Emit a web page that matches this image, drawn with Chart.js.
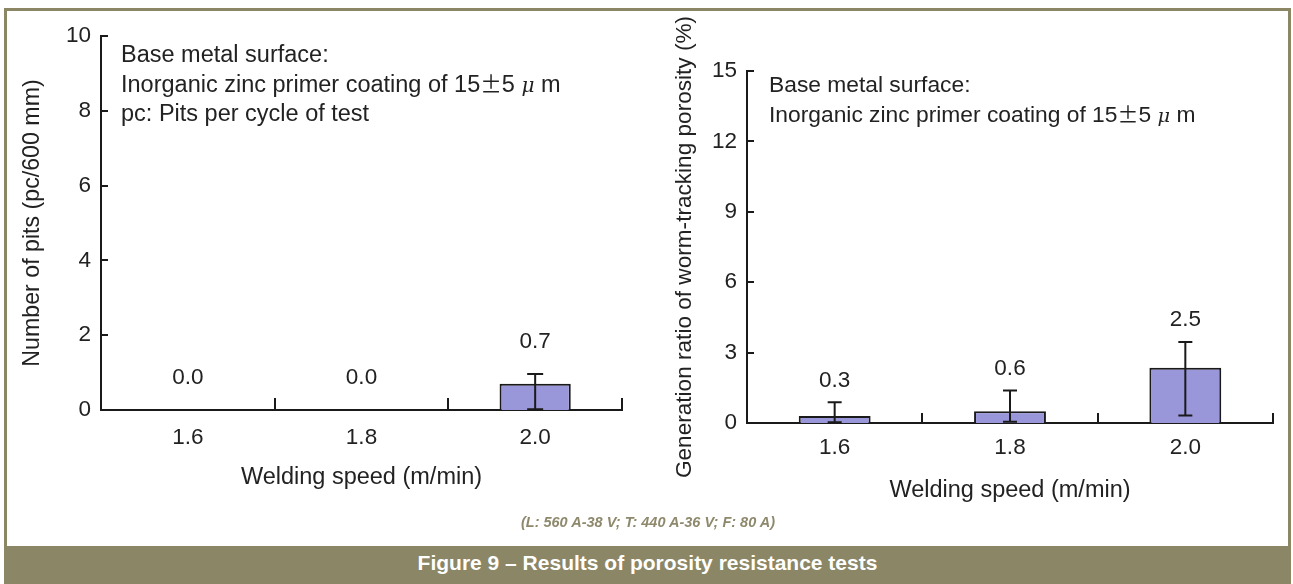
<!DOCTYPE html>
<html>
<head>
<meta charset="utf-8">
<script src="https://cdn.jsdelivr.net/npm/chart.js@4.4.1/dist/chart.umd.min.js"></script>
<style>
  body { margin: 0; width: 1293px; height: 584px; background: #fff; position: relative; overflow: hidden;
         font-family: "Liberation Sans", Arial, sans-serif; color: #222; }
  #frame { position: absolute; left: 4px; top: 8px; width: 1281px; height: 535px;
           border: 3px solid #8b8665; border-bottom: none; }
  #band { position: absolute; left: 4px; top: 546px; width: 1287px; height: 38px; background: #8b8665;
          color: #fff; font-weight: bold; font-size: 21px; text-align: center; line-height: 34px; }
  #note { position: absolute; left: 0; width: 1296px; top: 514px; text-align: center;
          font-size: 14.5px; font-weight: bold; font-style: italic; color: #8e896c; }
  canvas { position: absolute; top: 0; }
  .annot { position: absolute; line-height: 28.5px; white-space: nowrap; color: #222; }
  .pm { font-family: "Noto Sans CJK JP", sans-serif; font-size: 0.92em; }
  .mu { font-family: "DejaVu Serif", serif; font-style: italic; font-size: 0.85em; }
</style>
</head>
<body>
<div id="frame"></div>
<canvas id="pits" width="650" height="546" style="left:0"></canvas>
<canvas id="porosity" width="643" height="546" style="left:650px"></canvas>
<div class="annot" style="left:121px; top:40px; font-size:23.5px">Base metal surface:<br>Inorganic zinc primer coating of 15<span class="pm">±</span>5 <span class="mu">μ</span> m<br>pc: Pits per cycle of test</div>
<div class="annot" style="left:769px; top:70px; font-size:22.8px">Base metal surface:<br>Inorganic zinc primer coating of 15<span class="pm">±</span>5 <span class="mu">μ</span> m</div>
<div id="note">(L: 560 A-38 V; T: 440 A-36 V; F: 80 A)</div>
<div id="band">Figure 9 – Results of porosity resistance tests</div>

<script>
// data
const speeds = ['1.6', '1.8', '2.0'];

const pitsValues = [0, 0, 0.7];
const pitsLabels = ['0.0', '0.0', '0.7'];
const pitsErrLow = [null, null, 0.02];
const pitsErrHigh = [null, null, 0.96];
const pitsTicks = [0, 2, 4, 6, 8, 10];

const porosityValues = [0.3, 0.5, 2.35];
const porosityLabels = ['0.3', '0.6', '2.5'];
const porosityErrLow = [0.03, 0.05, 0.32];
const porosityErrHigh = [0.88, 1.39, 3.45];
const porosityTicks = [0, 3, 6, 9, 12, 15];

Chart.defaults.font.family = '"Liberation Sans", Arial, sans-serif';
Chart.defaults.color = '#222';

const ink = '#1a1a1a';

// error bars, value labels and the inward tick marks
const extras = {
  id: 'extras',
  afterDatasetsDraw(chart, args, opts) {
    const ctx = chart.ctx;
    const x = chart.scales.x, y = chart.scales.y;
    const meta = chart.getDatasetMeta(0);
    const area = chart.chartArea;
    ctx.save();
    ctx.strokeStyle = ink;
    ctx.lineWidth = 2;

    // y ticks pointing inward
    y.ticks.forEach(t => {
      const py = Math.round(y.getPixelForValue(t.value));
      ctx.beginPath();
      ctx.moveTo(area.left, py);
      ctx.lineTo(area.left + 7, py);
      ctx.stroke();
    });
    // x ticks at category boundaries
    for (let i = 0; i < speeds.length; i++) {
      const px = Math.round(x.getPixelForValue(i + 0.5));
      ctx.beginPath();
      ctx.moveTo(px, area.bottom);
      ctx.lineTo(px, area.bottom - opts.xTick);
      ctx.stroke();
    }

    meta.data.forEach((bar, i) => {
      const lo = opts.low[i], hi = opts.high[i];
      if (lo != null) {
        const yl = y.getPixelForValue(lo), yh = y.getPixelForValue(hi);
        const c = opts.cap / 2;
        ctx.beginPath();
        ctx.moveTo(bar.x, yl); ctx.lineTo(bar.x, yh);
        ctx.moveTo(bar.x - c, yh); ctx.lineTo(bar.x + c, yh);
        ctx.moveTo(bar.x - c, yl); ctx.lineTo(bar.x + c, yl);
        ctx.stroke();
      }
      const top = Math.max(opts.values[i], hi == null ? opts.values[i] : hi);
      ctx.fillStyle = '#222';
      ctx.font = '22.5px "Liberation Sans", Arial, sans-serif';
      ctx.textAlign = 'center';
      ctx.textBaseline = 'middle';
      ctx.fillText(opts.labels[i], bar.x, y.getPixelForValue(top) - opts.gap);
    });
    ctx.restore();
  }
};

function makeChart(id, o) {
  return new Chart(document.getElementById(id), {
    type: 'bar',
    data: {
      labels: speeds,
      datasets: [{
        data: o.values,
        backgroundColor: '#9a96da',
        borderColor: ink,
        borderWidth: 2,
        categoryPercentage: 1,
        barPercentage: 0.41
      }]
    },
    options: {
      responsive: false,
      animation: false,
      devicePixelRatio: 1,
      layout: { padding: o.padding },
      plugins: {
        legend: { display: false },
        tooltip: { enabled: false },
        extras: o.extras
      },
      scales: {
        x: {
          grid: { display: false, drawTicks: false },
          border: { display: true, color: ink, width: 2 },
          ticks: { font: { size: 22.5 }, color: '#222', padding: o.xPad, maxRotation: 0 },
          title: { display: true, text: 'Welding speed (m/min)', font: { size: 23.5 }, color: '#222',
                   padding: { top: 0, bottom: o.xTitlePad } },
          afterFit: s => { s.height = 90; }
        },
        y: {
          min: o.ticks[0],
          max: o.ticks[o.ticks.length - 1],
          afterBuildTicks: s => { s.ticks = o.ticks.map(v => ({ value: v })); },
          grid: { display: false, drawTicks: false },
          border: { display: true, color: ink, width: 2 },
          ticks: { font: { size: 22.5 }, color: '#222', padding: 10 },
          title: { display: true, text: o.yTitle, font: { size: o.yTitleSize }, color: '#222',
                   padding: { top: o.yTitlePad, bottom: 0 } },
          afterFit: s => { s.width = o.yWidth; }
        }
      }
    },
    plugins: [extras]
  });
}

makeChart('pits', {
  values: pitsValues,
  ticks: pitsTicks,
  yTitle: 'Number of pits (pc/600 mm)',
  yTitleSize: 23.2,
  padding: { left: 0, top: 36, right: 28, bottom: 46 },
  yWidth: 101,
  yTitlePad: 19,
  xPad: 14,
  xTitlePad: 8,
  extras: { values: pitsValues, labels: pitsLabels, low: pitsErrLow, high: pitsErrHigh,
            gap: 32, cap: 16, xTick: 12 }
});

makeChart('porosity', {
  values: porosityValues,
  ticks: porosityTicks,
  yTitle: 'Generation ratio of worm-tracking porosity (%)',
  yTitleSize: 22.6,
  padding: { left: 0, top: 71, right: 20, bottom: 33 },
  yWidth: 97,
  yTitlePad: 21,
  xPad: 11,
  xTitlePad: 8,
  extras: { values: porosityValues, labels: porosityLabels, low: porosityErrLow, high: porosityErrHigh,
            gap: 22, cap: 14, xTick: 10 }
});
</script>
</body>
</html>
